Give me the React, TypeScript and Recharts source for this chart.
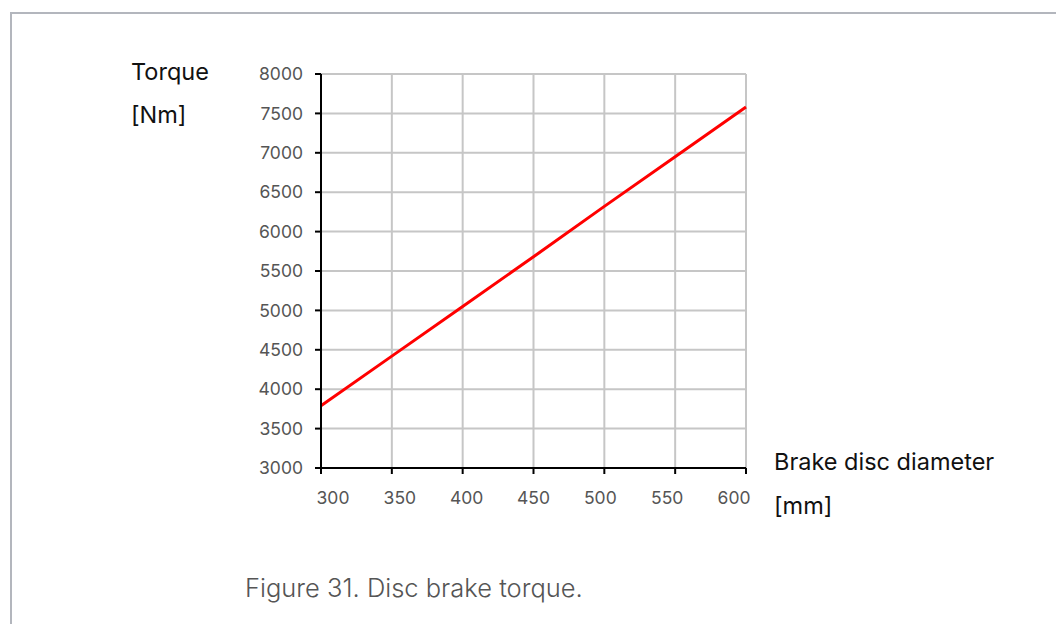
import React from 'react';
import { LineChart, Line, XAxis, YAxis, CartesianGrid } from 'recharts';

const diameters = [300, 350, 400, 450, 500, 550, 600];
const torque = [3790, 4420, 5050, 5680, 6320, 6950, 7580];
const xTicks = [300, 350, 400, 450, 500, 550, 600];
const yTicks = [3000, 3500, 4000, 4500, 5000, 5500, 6000, 6500, 7000, 7500, 8000];

const data = diameters.map((d, i) => ({ diameter: d, torque: torque[i] }));

const FONT = 'Inter, "Noto Sans", sans-serif';

// x labels in the source are squeezed a bit toward the centre
const XTick = (props: any) => {
  const { x, y, payload } = props;
  const shift = -((payload.value - 450) / 50) * 4;
  return (
    <text x={x + shift} y={y + 28} textAnchor="middle" fill="#555" fontSize={17.5} fontFamily={FONT}>
      {payload.value}
    </text>
  );
};

const App: React.FC = () => {
  return (
    <div style={{ position: 'absolute', left: 0, top: 0, width: 1056, height: 624, background: '#fff', fontFamily: FONT }}>
      <div
        style={{
          position: 'absolute',
          left: 10,
          top: 12,
          width: 1100,
          height: 700,
          borderTop: '2px solid #b3b6bd',
          borderLeft: '2px solid #b3b6bd',
        }}
      />
      <div style={{ position: 'absolute', left: 0, top: 0 }}>
        <LineChart
          width={1056}
          height={624}
          data={data}
          margin={{ top: 74, right: 310, left: 261, bottom: 126 }}
        >
          <CartesianGrid stroke="#c6c6c6" strokeWidth={2} />
          <XAxis
            dataKey="diameter"
            type="number"
            domain={[300, 600]}
            ticks={xTicks}
            tick={<XTick />}
            tickLine={{ stroke: '#000', strokeWidth: 2 }}
            tickSize={6}
            axisLine={{ stroke: '#000', strokeWidth: 2 }}
            height={30}
          />
          <YAxis
            type="number"
            domain={[3000, 8000]}
            ticks={yTicks}
            width={60}
            tick={{ fill: '#555', fontSize: 17.5, fontFamily: FONT }}
            tickLine={{ stroke: '#000', strokeWidth: 2 }}
            tickSize={6}
            tickMargin={12}
            axisLine={{ stroke: '#000', strokeWidth: 2 }}
          />
          <Line
            type="linear"
            dataKey="torque"
            stroke="#ff0000"
            strokeWidth={3}
            dot={false}
            isAnimationActive={false}
          />
        </LineChart>
      </div>
      <div style={{ position: 'absolute', left: 131, top: 58, fontSize: 23.5, color: '#111', lineHeight: '28px' }}>Torque</div>
      <div style={{ position: 'absolute', left: 131, top: 101, fontSize: 23.5, color: '#111', lineHeight: '28px' }}>[Nm]</div>
      <div style={{ position: 'absolute', left: 774, top: 448, fontSize: 23.5, color: '#111', lineHeight: '28px' }}>Brake disc diameter</div>
      <div style={{ position: 'absolute', left: 774, top: 492, fontSize: 23.5, color: '#111', lineHeight: '28px' }}>[mm]</div>
      <div style={{ position: 'absolute', left: 245, top: 572, fontSize: 25.5, fontWeight: 300, color: '#555', lineHeight: '32px' }}>
        Figure 31. Disc brake torque.
      </div>
    </div>
  );
};

export default App;
